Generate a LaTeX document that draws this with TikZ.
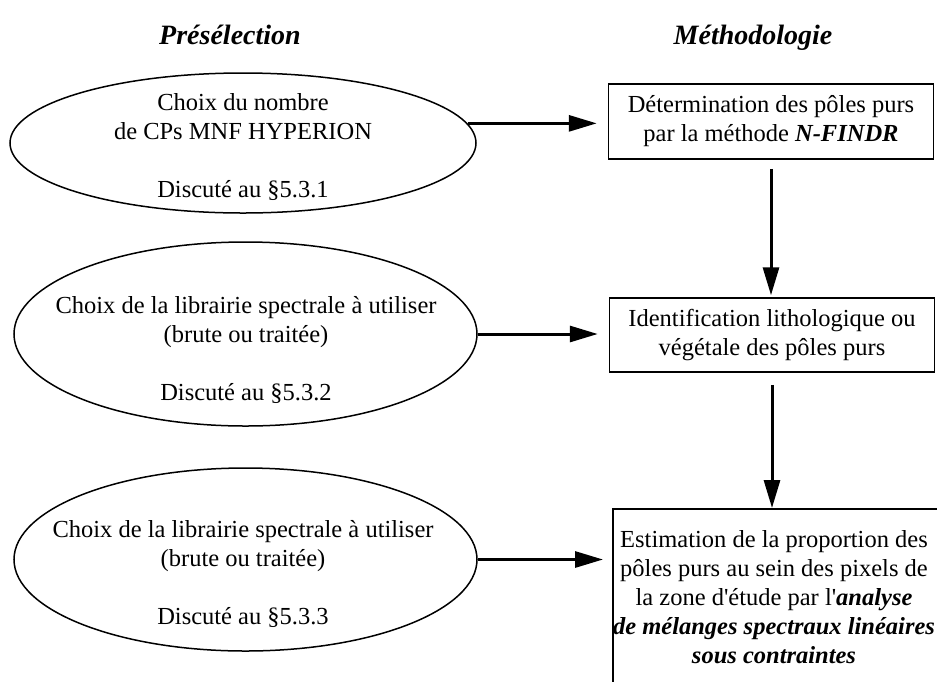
\documentclass[tikz,border=0pt]{standalone}
\usepackage{fontspec}
\setmainfont{Liberation Serif}[Ligatures=TeXOff]
\usetikzlibrary{shapes.geometric,arrows.meta}
\begin{document}
\begin{tikzpicture}[x=1pt,y=-1pt,
  every node/.style={font=\fontsize{24.5}{29}\selectfont},
  ell/.style={draw, ellipse, line width=1.5pt, inner sep=0pt},
  box/.style={draw, rectangle, line width=1.5pt, minimum width=325pt, minimum height=75pt, align=center, inner sep=0pt},
  txt/.style={align=center, inner sep=0pt, anchor=north},
  head/.style={font=\fontsize{28}{32}\selectfont\bfseries\itshape, anchor=base, inner sep=0pt},
  arr/.style={line width=3pt, -{Triangle[length=28pt,width=16pt]}}
]
\useasboundingbox (0,0) rectangle (937,681);

% headings
\node[head] (h1) at (230,44) {Présélection};
\node[head] (h2) at (753,44) {Méthodologie};

% ellipses
\node[ell, minimum width=466pt, minimum height=140pt] (e1) at (243,143) {};
\node[ell, minimum width=463pt, minimum height=184pt] (e2) at (245.5,334) {};
\node[ell, minimum width=463pt, minimum height=183pt] (e3) at (245.5,559.5) {};

\node[txt] (t1) at (243,93.5) {Choix du nombre\\de CPs MNF HYPERION\\[29pt]Discuté au §5.3.1};
\node[txt] (t2) at (246,296.5) {Choix de la librairie spectrale à utiliser\\(brute ou traitée)\\[29pt]Discuté au §5.3.2};
\node[txt] (t3) at (243,520) {Choix de la librairie spectrale à utiliser\\(brute ou traitée)\\[29pt]Discuté au §5.3.3};

% boxes
\node[box] (b1) at (771,121.5) {Détermination des pôles purs\\par la méthode \textbf{\textit{N-FINDR}}};
\node[box, minimum height=74pt] (b2) at (772,335) {Identification lithologique ou\\végétale des pôles purs};
\node[draw, line width=1.5pt, minimum width=326pt, minimum height=200pt, anchor=north west, inner sep=0pt] (b3) at (612,508) {};
\node[txt] (t4) at (774,530) {Estimation de la proportion des\\pôles purs au sein des pixels de\\la zone d'étude par l'\textbf{\textit{analyse}}\\\textbf{\textit{de mélanges spectraux linéaires}}\\\textbf{\textit{sous contraintes}}};

% arrows
\draw[arr, shorten >=11pt] (e1.5) -- (e1.5 -| b1.west);
\draw[arr, shorten >=11pt] (e2.east) -- (e2.east -| b2.west);
\draw[arr, shorten >=9pt] (e3.east) -- (e3.east -| b3.west);
\draw[arr, shorten <=9pt, shorten >=2pt] (b1.south) -- (b1.south |- b2.north);
\draw[arr, shorten <=12pt] (b2.south) -- (b2.south |- b3.north);
\end{tikzpicture}
\end{document}
